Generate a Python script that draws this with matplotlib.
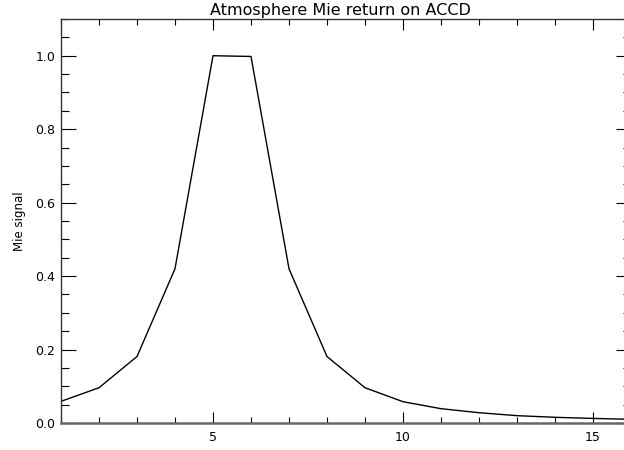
import matplotlib
matplotlib.use("Agg")
import matplotlib.pyplot as plt
from matplotlib.ticker import MultipleLocator, FixedLocator

# Mie return profile along the ACCD pixels
pixel = [1, 2, 3, 4, 5, 6, 7, 8, 9, 10, 11, 12, 13, 14, 15, 16]
mie_signal = [0.059, 0.096, 0.181, 0.420, 1.000, 0.998, 0.420, 0.181,
              0.096, 0.058, 0.039, 0.028, 0.020, 0.0155, 0.0125, 0.010]

title = "Atmosphere Mie return on ACCD"
ylabel = "Mie signal"
xticks = [5, 10, 15]
yticks = [0.0, 0.2, 0.4, 0.6, 0.8, 1.0]

plt.rcParams["font.family"] = ["DejaVu Sans"]

fig = plt.figure(figsize=(6.24, 4.5), dpi=100)
ax = fig.add_axes([61 / 624, 27 / 450, 570 / 624, 404 / 450])

ax.plot(pixel, mie_signal, color="black", linewidth=1.0)

ax.set_xlim(1, 16)
ax.set_ylim(0, 1.1)

ax.xaxis.set_major_locator(FixedLocator(xticks))
ax.xaxis.set_minor_locator(MultipleLocator(1))
ax.yaxis.set_major_locator(FixedLocator(yticks))
ax.yaxis.set_minor_locator(MultipleLocator(0.05))
ax.set_xticklabels([str(t) for t in xticks])
ax.set_yticklabels([f"{t:.1f}" for t in yticks])

ax.tick_params(axis="x", which="major", direction="in", length=8, width=0.8,
               top=True, bottom=True, labelsize=9, pad=6, colors="black")
ax.tick_params(axis="x", which="minor", direction="in", length=4, width=0.8,
               top=True, bottom=True)
ax.tick_params(axis="y", which="major", direction="in", length=11, width=0.8,
               left=True, right=True, labelsize=9, pad=4)
ax.tick_params(axis="y", which="minor", direction="in", length=6, width=0.8,
               left=True, right=True)

for side, spine in ax.spines.items():
    spine.set_linewidth(1.0)
    spine.set_color("#333333")
ax.spines["bottom"].set_linewidth(1.8)
ax.spines["bottom"].set_color("#666666")

ax.set_title(title, fontsize=11.5, pad=3, x=(340 - 61) / 570)
ax.set_ylabel(ylabel, fontsize=8.5, labelpad=7)

fig.savefig("out.png", dpi=100)
